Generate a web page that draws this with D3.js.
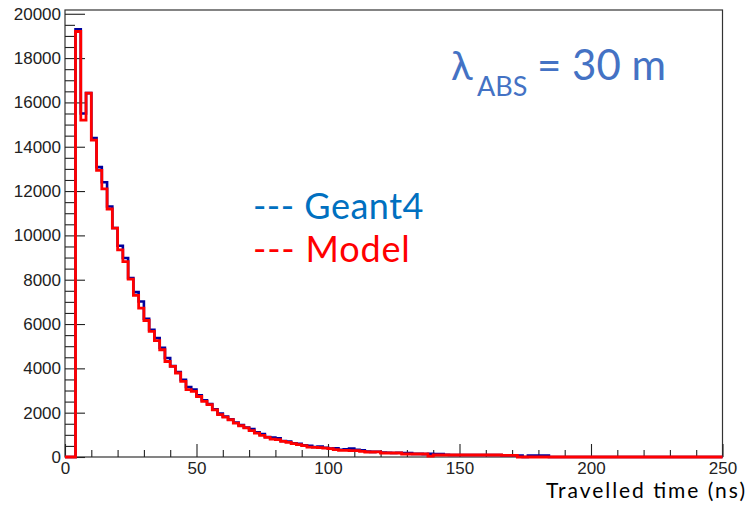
<!DOCTYPE html>
<html>
<head>
<meta charset="utf-8">
<script src="https://cdn.jsdelivr.net/npm/d3@7"></script>
<style>
  body { margin: 0; background: #fff; }
  svg { display: block; }
</style>
</head>
<body>
<svg width="749" height="506"></svg>
<script>
var width = 749;
var height = 506;
var padLeft = 65, padRight = 722.5, padTop = 10, padBottom = 457;

// histogram: 125 bins of 2 ns from 0 to 250 ns
var binWidth = 2;
var modelCounts = [
  0, 0, 19200, 15200, 16420, 14300, 12930, 12100, 11190, 10330,
  9350, 8820, 8030, 7290, 6720, 6160, 5670, 5250, 4840, 4310,
  4090, 3790, 3410, 3040, 2960, 2730, 2510, 2360, 2130, 1910,
  1800, 1680, 1530, 1410, 1310, 1190, 1080, 975, 885, 810,
  780, 705, 660, 600, 555, 510, 450, 435, 420, 405,
  375, 330, 300, 300, 285, 285, 255, 225, 225, 230,
  180, 180, 180, 180, 135, 135, 135, 135, 135, 40,
  90, 90, 90, 90, 90, 90, 90, 90, 90, 90,
  90, 90, 90, 70, 70, 70, 0, 0, 0, 0,
  0, 0, 0, 0, 0, 0, 0, 0, 0, 0,
  0, 0, 0, 0, 0, 0, 0, 0, 0, 0,
  0, 0, 0, 0, 0, 0, 0, 0, 0, 0,
  0, 0, 0, 0, 0
];
var geantCounts = [
  0, 0, 19300, 15500, 16420, 14390, 13080, 12400, 11300, 10330,
  9530, 8980, 8080, 7440, 7020, 6240, 5740, 5370, 4930, 4470,
  4100, 3830, 3480, 3160, 3040, 2780, 2560, 2390, 2150, 1960,
  1830, 1700, 1560, 1440, 1330, 1260, 1110, 1030, 900, 880,
  840, 720, 700, 620, 600, 530, 500, 450, 470, 420,
  380, 390, 330, 350, 380, 330, 300, 250, 230, 240,
  200, 190, 180, 190, 180, 180, 140, 140, 130, 140,
  135, 135, 100, 90, 90, 90, 90, 90, 90, 90,
  90, 90, 90, 70, 70, 70, 70, 0, 70, 70,
  70, 70, 0, 0, 0, 0, 0, 0, 0, 0,
  0, 0, 0, 0, 0, 0, 0, 0, 0, 0,
  0, 0, 0, 0, 0, 0, 0, 0, 0, 0,
  0, 0, 0, 0, 0
];

var xMajorTicks = [0, 50, 100, 150, 200, 250];
var yMajorTicks = [0, 2000, 4000, 6000, 8000, 10000, 12000, 14000, 16000, 18000, 20000];

var svg = d3.select("svg");
svg.append('rect').attr('width', width).attr('height', height).attr('fill', '#fff');

var x = d3.scaleLinear().domain([0, 250]).range([padLeft, padRight]);
var y = d3.scaleLinear().domain([0, 20170]).range([padBottom, padTop]);

var xMinorTicks = d3.range(0, 251, 10).filter(function(v) { return v % 50 != 0; });
var yMinorTicks = d3.range(0, 20001, 500).filter(function(v) { return v % 2000 != 0; });

// frame
svg.append('rect')
  .attr('x', padLeft).attr('y', padTop)
  .attr('width', padRight - padLeft).attr('height', padBottom - padTop)
  .attr('fill', 'none').attr('stroke', '#333').attr('stroke-width', 1.2);

var styleAxis = function(g) {
  g.select('.domain').remove();
  g.selectAll('line').attr('stroke', '#222').attr('stroke-width', 1.1);
  g.selectAll('text').attr('font-family', 'Liberation Sans, Arial, sans-serif')
    .attr('font-size', '17px').attr('fill', '#222');
};

svg.append('g').attr('transform', 'translate(' + padLeft + ',0)')
  .call(d3.axisLeft(y).tickValues(yMajorTicks).tickSize(-20).tickPadding(4).tickFormat(d3.format('d')))
  .call(styleAxis);
svg.append('g').attr('transform', 'translate(' + padLeft + ',0)')
  .call(d3.axisLeft(y).tickValues(yMinorTicks).tickSize(-10).tickFormat(''))
  .call(styleAxis);
svg.append('g').attr('transform', 'translate(0,' + padBottom + ')')
  .call(d3.axisBottom(x).tickValues(xMajorTicks).tickSize(-13).tickPadding(5).tickFormat(d3.format('d')))
  .call(styleAxis);
svg.append('g').attr('transform', 'translate(0,' + padBottom + ')')
  .call(d3.axisBottom(x).tickValues(xMinorTicks).tickSize(-7).tickFormat(''))
  .call(styleAxis);

// step outline of a histogram
var stepPoints = function(counts) {
  var pts = [[0, 0]];
  counts.forEach(function(c, i) {
    pts.push([i * binWidth, c]);
    pts.push([(i + 1) * binWidth, c]);
  });
  pts.push([counts.length * binWidth, 0]);
  return pts;
};
var line = d3.line()
  .x(function(d) { return x(d[0]); })
  .y(function(d) { return y(d[1]); });

svg.append('path').attr('d', line(stepPoints(geantCounts)))
  .attr('fill', 'none').attr('stroke', '#00009c').attr('stroke-width', 2.6);
svg.append('path').attr('d', line(stepPoints(modelCounts)))
  .attr('fill', 'none').attr('stroke', '#ff0000').attr('stroke-width', 2.8);

// legend & annotations
var font = 'Lato, "Noto Sans", sans-serif';
svg.append('text').attr('x', 253).attr('y', 219)
  .attr('font-family', font).attr('font-size', '36px').attr('fill', '#0070c0')
  .attr('letter-spacing', '0.5px')
  .text('--- Geant4');
svg.append('text').attr('x', 253).attr('y', 262)
  .attr('font-family', font).attr('font-size', '36px').attr('fill', '#ff0000')
  .attr('letter-spacing', '0.8px')
  .text('--- Model');

svg.append('text').attr('x', 451).attr('y', 80)
  .attr('font-family', font).attr('font-size', '40px').attr('fill', '#4472c4')
  .text('λ');
svg.append('text').attr('x', 477).attr('y', 96)
  .attr('font-family', font).attr('font-size', '27px').attr('fill', '#4472c4')
  .text('ABS');
svg.append('text').attr('x', 537).attr('y', 80)
  .attr('font-family', font).attr('font-size', '42px').attr('fill', '#4472c4')
  .text('= 30 m');

svg.append('text').attr('x', 745).attr('y', 498).attr('text-anchor', 'end')
  .attr('font-family', font).attr('font-size', '21px').attr('fill', '#000')
  .attr('textLength', 199).attr('lengthAdjust', 'spacing')
  .text('Travelled time (ns)');
</script>
</body>
</html>
